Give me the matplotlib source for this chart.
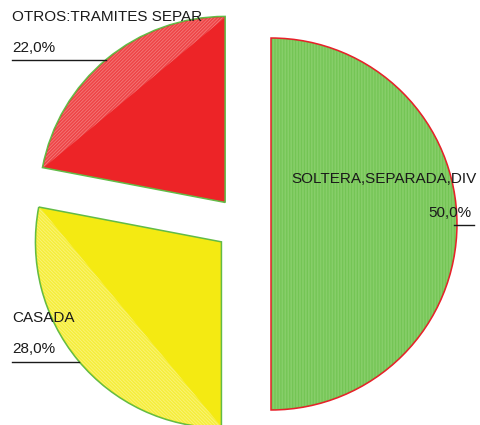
import numpy as np
import matplotlib
matplotlib.use('Agg')
import matplotlib.pyplot as plt
import matplotlib.patches as mpatches

plt.rcParams['font.family'] = ['Liberation Sans', 'DejaVu Sans']
plt.rcParams['hatch.linewidth'] = 0.5

# data
labels = ['SOLTERA,SEPARADA,DIV', 'CASADA', 'OTROS:TRAMITES SEPAR']
values = [50.0, 28.0, 22.0]
pct_labels = ['50,0%', '28,0%', '22,0%']

colors = ['#6cc04a', '#f4ea12', '#ed2427']
seg_colors = ['#6ec24e', '#f6ee3c', '#ee4547']
line_colors = ['#92d476', '#faf482', '#f58080']
edge_colors = ['#e8202a', '#62bb46', '#62bb46']
hatches = ['|||||||||||', '\\\\\\\\\\\\\\\\\\\\', '//////////']

fig = plt.figure(figsize=(4.8, 4.25), dpi=100)
ax = fig.add_axes([0, 0, 1, 1])

wedges, _ = ax.pie(values, colors=colors, startangle=90, counterclock=False,
                   explode=[28, 28, 28], radius=186, center=(243, 201),
                   wedgeprops=dict(linewidth=0))
ax.set_xlim(0, 480)
ax.set_ylim(0, 425)
ax.axis('off')

# segment texture + outlines
for w, ec, sc, lc, h in zip(wedges, edge_colors, seg_colors, line_colors, hatches):
    cx, cy = w.center
    t = np.radians(np.linspace(w.theta1, w.theta2, 120))
    pts = np.column_stack([cx + (w.r - 1) * np.cos(t), cy + (w.r - 1) * np.sin(t)])
    seg = mpatches.Polygon(pts, closed=True, facecolor=sc, edgecolor=lc,
                           lw=0, hatch=h, zorder=2)
    ax.add_patch(seg)
    ax.add_patch(mpatches.Wedge((cx, cy), w.r, w.theta1, w.theta2, fill=False,
                                edgecolor=ec, lw=1.1, zorder=3))


def arc_x(w, y, side):
    cx, cy = w.center
    return cx + side * np.sqrt(w.r ** 2 - (y - cy) ** 2)


txt = dict(fontsize=11, color='#1a1a1a', ha='left', va='baseline')

# OTROS
ax.text(12, 404, labels[2], **txt)
ax.text(12, 373, pct_labels[2], **txt)
ax.plot([12, arc_x(wedges[2], 365, -1)], [365, 365], color='#1a1a1a', lw=1, zorder=4)

# CASADA
ax.text(12, 103, labels[1], **txt)
ax.text(12, 72, pct_labels[1], **txt)
ax.plot([12, arc_x(wedges[1], 63, -1)], [63, 63], color='#1a1a1a', lw=1, zorder=4)

# SOLTERA
ax.text(291, 242, labels[0], zorder=5, **txt)
ax.text(428, 208, pct_labels[0], zorder=5, **txt)
ax.plot([arc_x(wedges[0], 200, 1) - 3, 474], [200, 200], color='#1a1a1a', lw=1, zorder=4)

fig.savefig('out.png', dpi=100)
